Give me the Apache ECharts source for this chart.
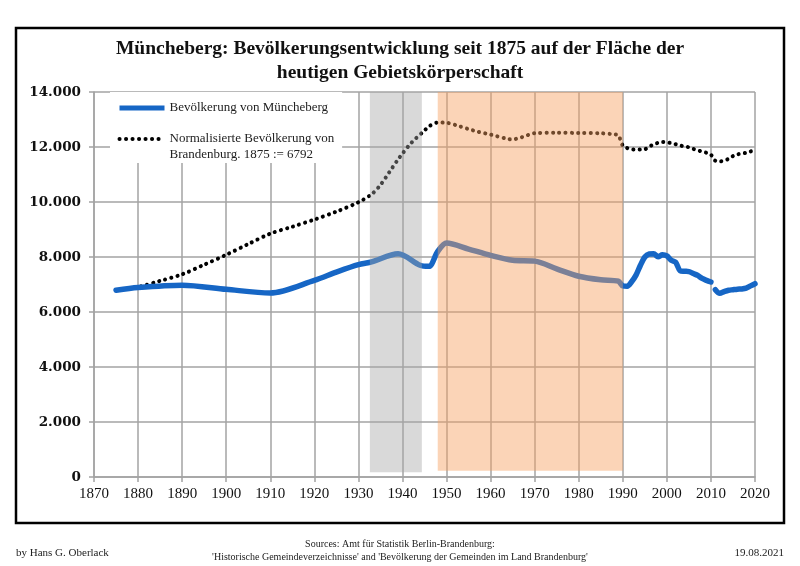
<!DOCTYPE html>
<html>
<head>
<meta charset="utf-8">
<script src="https://cdn.jsdelivr.net/npm/echarts@6/dist/echarts.min.js"></script>
<style>html,body{margin:0;padding:0;background:#fff}#c{width:800px;height:566px}</style>
</head>
<body>
<div id="c"></div>
<script>
// Population of Müncheberg (first part up to 2010, second part from 2011 – break in series)
const yearsM1 = [1875,1880,1890,1900,1910,1920,1925,1930,1933,1939,1944,1946,1948,1950,1955,1960,1965,1970,1975,1980,1985,1989,1990,1991,1992,1993,1994,1995,1996,1997,1998,1999,2000,2001,2002,2003,2004,2005,2006,2007,2008,2009,2010];
const popM1   = [6792,6890,6975,6825,6690,7150,7450,7720,7820,8120,7700,7660,8200,8510,8290,8060,7880,7850,7570,7300,7170,7120,6950,6940,7100,7340,7700,8000,8110,8120,8010,8080,8040,7880,7810,7500,7480,7470,7400,7330,7220,7150,7090];
const yearsM2 = [2011,2012,2013,2014,2015,2016,2017,2018,2019,2020];
const popM2   = [6810,6680,6740,6790,6810,6830,6840,6870,6950,7030];
// Normalised population of Brandenburg (1875 := 6792)
const yearsB = [1875,1880,1885,1890,1895,1900,1905,1910,1915,1920,1925,1930,1933,1935,1937,1939,1940,1942,1945,1946,1948,1950,1953,1955,1957,1960,1964,1965,1967,1970,1975,1980,1985,1988,1989,1990,1991,1992,1993,1994,1995,1996,1997,1998,1999,2000,2001,2002,2003,2004,2005,2006,2007,2008,2009,2010,2011,2012,2013,2014,2015,2016,2017,2018,2019,2020];
const popB   = [6792,6910,7130,7370,7720,8080,8470,8850,9100,9360,9650,9990,10280,10620,11080,11550,11760,12150,12600,12750,12890,12880,12750,12650,12560,12450,12290,12280,12350,12500,12520,12510,12500,12460,12420,12050,11960,11920,11905,11910,11920,12010,12100,12150,12180,12170,12140,12100,12060,12010,11990,11930,11880,11830,11790,11720,11500,11480,11500,11570,11670,11730,11760,11790,11840,11890];
// Shaded periods
const periodNazi = [1932.6, 1944.4];
const periodGDR  = [1948, 1990];
const xTicks = [1870, 2020, 10];
const yTicks = [0, 14000, 2000];

const nameM = 'Bevölkerung von Müncheberg';
const nameB = 'Normalisierte Bevölkerung von\nBrandenburg. 1875 := 6792';
const serif = '"Liberation Serif", "DejaVu Serif", serif';
const zip = (a, b) => a.map((x, i) => [x, b[i]]);

const chart = echarts.init(document.getElementById('c'), null, {renderer: 'canvas'});
const gridColor = '#a3a3a3';
const blue = '#1666c5';
chart.setOption({
  animation: false,
  backgroundColor: '#fff',
  title: {
    text: 'Müncheberg: Bevölkerungsentwicklung seit 1875 auf der Fläche der\nheutigen Gebietskörperschaft',
    left: 'center', top: 32,
    textStyle: {fontFamily: serif, fontSize: 19.5, fontWeight: 'bold', color: '#111', lineHeight: 24}
  },
  grid: {left: 94, right: 45, top: 92, bottom: 89},
  legend: {
    left: 110, top: 92, orient: 'vertical',
    backgroundColor: '#fff',
    padding: [8, 8, 0, 7],
    itemGap: -1,
    itemWidth: 45, itemHeight: 12,
    itemStyle: {opacity: 0},
    textStyle: {fontFamily: serif, fontSize: 13, color: '#222', lineHeight: 16},
    formatter: n => n === nameB ? '\n' + n : n,
    data: [
      {name: nameM, lineStyle: {width: 5, color: blue, cap: 'butt'}},
      {name: nameB, lineStyle: {width: 4, color: '#000', type: [0.1, 6.4], cap: 'round'}}
    ]
  },
  xAxis: {
    type: 'value', min: xTicks[0], max: xTicks[1], interval: xTicks[2],
    axisLine: {show: true, lineStyle: {color: gridColor, width: 1.5}},
    axisTick: {show: true, length: 5, lineStyle: {color: gridColor, width: 1.5}},
    splitLine: {show: true, lineStyle: {color: gridColor, width: 1.5}},
    axisLabel: {formatter: v => String(v), fontFamily: serif, fontSize: 15, color: '#111', margin: 10}
  },
  yAxis: {
    type: 'value', min: yTicks[0], max: yTicks[1], interval: yTicks[2],
    axisLine: {show: true, lineStyle: {color: gridColor, width: 1.5}},
    axisTick: {show: true, length: 5, lineStyle: {color: gridColor, width: 1.5}},
    splitLine: {show: true, lineStyle: {color: gridColor, width: 1.5}},
    axisLabel: {formatter: v => v === 0 ? '0' : (v / 1000).toFixed(0) + '.000',
      fontFamily: '"DejaVu Serif", serif', fontSize: 13.5, fontWeight: 'bold', color: '#111', margin: 13,
      padding: [7, 0, 0, 0]}
  },
  series: [
    {
      name: nameB, type: 'line', data: zip(yearsB, popB), showSymbol: false, symbol: 'none',
      smooth: 0.3, z: 2,
      lineStyle: {color: '#000', width: 4, type: [0.1, 6.2], cap: 'round'},
      itemStyle: {color: '#000'}
    },
    {
      name: nameM, type: 'line', data: zip(yearsM1, popM1), showSymbol: false, symbol: 'none',
      smooth: 0.3, z: 3,
      lineStyle: {color: blue, width: 5.5, cap: 'round'},
      itemStyle: {color: blue}
    },
    {
      name: nameM, type: 'line', data: zip(yearsM2, popM2), showSymbol: false, symbol: 'none',
      smooth: 0.3, z: 3,
      lineStyle: {color: blue, width: 5.5, cap: 'round'},
      itemStyle: {color: blue}
    },
    {
      name: 'bands', type: 'line', data: [], z: 10,
      markArea: {
        silent: true, z: 10,
        data: [
          [{xAxis: periodNazi[0], yAxis: 170, itemStyle: {color: 'rgba(165,165,165,0.42)'}}, {xAxis: periodNazi[1], yAxis: 14000}],
          [{xAxis: periodGDR[0], yAxis: 230, itemStyle: {color: 'rgba(247,160,95,0.45)'}}, {xAxis: periodGDR[1], yAxis: 14000}]
        ]
      }
    }
  ],
  graphic: [
    {type: 'rect', shape: {x: 16, y: 28, width: 768, height: 495}, style: {fill: 'none', stroke: '#000', lineWidth: 2.5}, z: 100},
    {type: 'text', left: 16, top: 548, style: {text: 'by Hans G. Oberlack', font: '11px ' + serif, fill: '#222'}},
    {type: 'text', right: 16, top: 548, style: {text: '19.08.2021', font: '11px ' + serif, fill: '#222'}},
    {type: 'text', left: 'center', top: 538, style: {text: 'Sources: Amt für Statistik Berlin-Brandenburg:\n\'Historische Gemeindeverzeichnisse\' and \'Bevölkerung der Gemeinden im Land Brandenburg\'', font: '10px ' + serif, fill: '#222', textAlign: 'center', lineHeight: 13}}
  ]
});
</script>
</body>
</html>
